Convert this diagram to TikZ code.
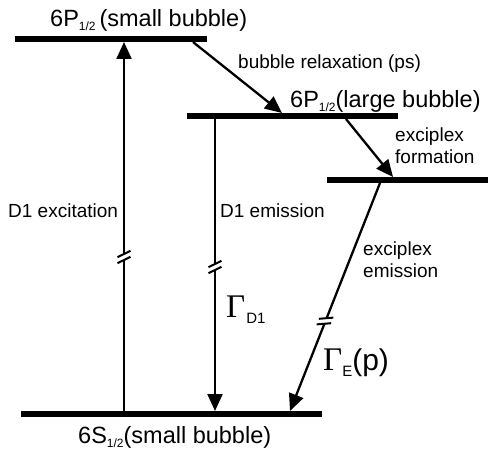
\documentclass[tikz,border=0pt]{standalone}
\usepackage{fontspec}
\setmainfont{Liberation Sans}
\newfontfamily\gfont{Liberation Serif}
\usetikzlibrary{arrows.meta,calc}
\begin{document}
\begin{tikzpicture}[x=1pt,y=-1pt,
  level/.style={line width=5.8pt},
  trans/.style={line width=2.3pt,-{Triangle[length=17pt,width=15pt]}},
  lbl/.style={inner sep=0pt,anchor=base west,font=\fontsize{19}{22}\selectfont},
  title/.style={inner sep=0pt,anchor=base west,font=\fontsize{23.5}{26}\selectfont},
  brk/.pic={\fill[white] (-6.5,0.2)--(6.5,-6.2)--(6.5,-0.2)--(-6.5,6.2)--cycle;
    \draw[line width=2pt] (-6.5,0.2)--(6.5,-6.2) (-6.5,6.2)--(6.5,-0.2);}]
\useasboundingbox (0,0) rectangle (503,452);
\newcommand{\subhalf}{\raisebox{-4pt}{\fontsize{12}{12}\selectfont 1/2}}
% levels
\coordinate (L1a) at (15,39);  \coordinate (L1b) at (207,39);
\coordinate (L2a) at (187,116); \coordinate (L2b) at (398,116);
\coordinate (L3a) at (327,180); \coordinate (L3b) at (488,180);
\coordinate (L0a) at (21,414); \coordinate (L0b) at (322,414);
\draw[level] (L1a) -- (L1b);
\draw[level] (L2a) -- (L2b);
\draw[level] (L3a) -- (L3b);
\draw[level] (L0a) -- (L0b);
% level titles
\node[title] (t1) at (50,27) {6P\subhalf\,(small bubble)};
\node[title] (t2) at (290,107) {6P\subhalf(large bubble)};
\node[title] (t0) at (78,443) {6S\subhalf(small bubble)};
% transitions
\coordinate (exB) at (124,411); \coordinate (exT) at (124,42);
\draw[trans] (exB) -- (exT);
\coordinate (brA) at (193,42); \coordinate (brB) at (282,113);
\draw[trans] (brA) -- (brB);
\coordinate (efA) at (346,119); \coordinate (efB) at (393,177);
\draw[trans] (efA) -- (efB);
\coordinate (deA) at (215,119); \coordinate (deB) at (215,411);
\draw[trans] (deA) -- (deB);
\coordinate (eeA) at (380,183); \coordinate (eeB) at (290,411);
\draw[trans] (eeA) -- (eeB);
% breaks
\pic at (124,257) {brk};
\pic at (215,267) {brk};
\pic[rotate=-21.5] at (325,321) {brk};
% labels
\node[lbl] (lrel) at (238,69) {bubble relaxation (ps)};
\node[lbl,align=left,anchor=north west] (lform) at (395,128) {exciplex\\formation};
\node[lbl] (lexc) at (8,217) {D1 excitation};
\node[lbl] (lem) at (220,217) {D1 emission};
\node[lbl,align=left,anchor=north west] (lee) at (363,242) {exciplex\\emission};
\node[inner sep=0pt,anchor=base west] (gd) at (226,317)
  {{\gfont\fontsize{33}{33}\selectfont Γ}\kern1pt\raisebox{-6pt}{\fontsize{15}{15}\selectfont D1}};
\node[inner sep=0pt,anchor=base west] (ge) at (323,370)
  {{\gfont\fontsize{33}{33}\selectfont Γ}\kern0pt\raisebox{-6pt}{\fontsize{15}{15}\selectfont E}{\fontsize{30}{30}\selectfont(p)}};
\end{tikzpicture}
\end{document}
